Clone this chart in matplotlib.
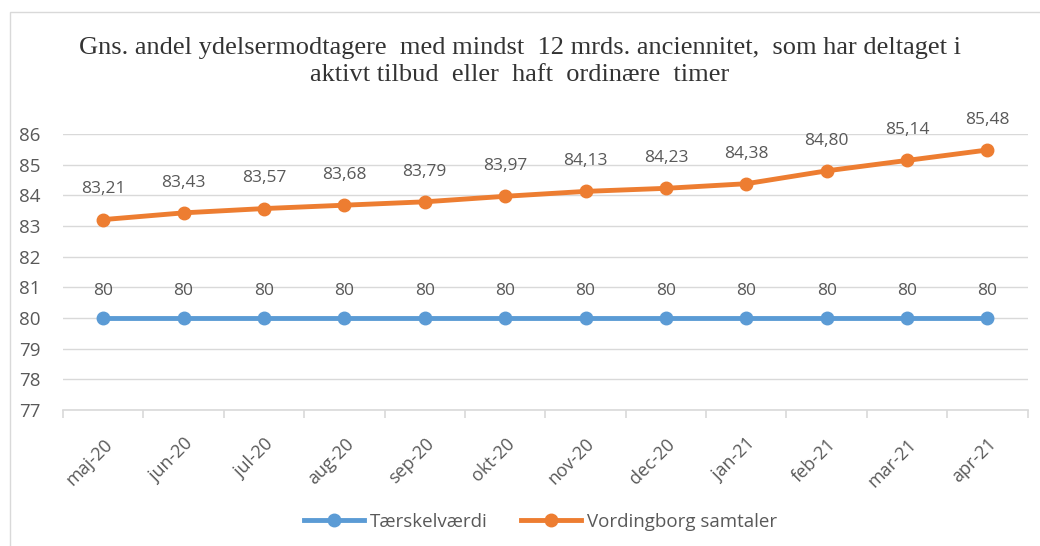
import matplotlib.pyplot as plt
from matplotlib.patches import Rectangle

months = ["maj-20", "jun-20", "jul-20", "aug-20", "sep-20", "okt-20",
          "nov-20", "dec-20", "jan-21", "feb-21", "mar-21", "apr-21"]
threshold = [80, 80, 80, 80, 80, 80, 80, 80, 80, 80, 80, 80]
vordingborg = [83.21, 83.43, 83.57, 83.68, 83.79, 83.97,
               84.13, 84.23, 84.38, 84.80, 85.14, 85.48]

blue = "#5b9bd5"
orange = "#ed7d31"
grey = "#595959"

fig = plt.figure(figsize=(10.4, 5.46), dpi=100)
ax = fig.add_axes([0.0606, 0.249, 0.9275, 0.5055])

# light frame round the chart area
fig.patches.append(Rectangle((10 / 1040, -0.1), 1.2, 1 - 12 / 546 + 0.1,
                             transform=fig.transFigure, fill=False,
                             edgecolor="#d9d9d9", linewidth=1))

x = list(range(len(months)))
ax.plot(x, threshold, color=blue, linewidth=3.5, marker="o", markersize=9,
        label="Tærskelværdi", zorder=3)
ax.plot(x, vordingborg, color=orange, linewidth=3.5, marker="o", markersize=9,
        label="Vordingborg samtaler", zorder=3)

# data labels
for i, v in enumerate(threshold):
    ax.annotate(str(v), (i, v), xytext=(0, 14), textcoords="offset points",
                ha="center", va="bottom", fontsize=12.5, color=grey,
                family="Open Sans")
for i, v in enumerate(vordingborg):
    ax.annotate(f"{v:.2f}".replace(".", ","), (i, v), xytext=(0, 16),
                textcoords="offset points", ha="center", va="bottom",
                fontsize=12.5, color=grey, family="Open Sans")

ax.set_xlim(-0.5, len(months) - 0.5)
ax.set_ylim(77, 86)
ax.set_yticks(range(77, 87))
ax.grid(axis="y", color="#d9d9d9", linewidth=1)
ax.set_axisbelow(True)

for s in ["top", "right", "left"]:
    ax.spines[s].set_visible(False)
ax.spines["bottom"].set_color("#d9d9d9")
ax.spines["bottom"].set_linewidth(1.2)

ax.set_xticks([i - 0.5 for i in range(len(months) + 1)], minor=False)
ax.set_xticklabels([])
ax.tick_params(axis="x", which="major", length=6, color="#d9d9d9", width=1.2)
ax.set_xticks(x, minor=True)
ax.set_xticklabels(months, minor=True, rotation=45, ha="right",
                   rotation_mode="anchor", fontsize=13, color=grey,
                   family="Open Sans")
ax.tick_params(axis="x", which="minor", length=0, pad=18)
ax.tick_params(axis="y", length=0, labelsize=13.5, labelcolor=grey, pad=16)
for lab in ax.get_yticklabels():
    lab.set_family("Open Sans")

fig.text(0.5, 0.888, "Gns. andel ydelsermodtagere  med mindst  12 mrds. anciennitet,  som har deltaget i\n"
         "aktivt tilbud  eller  haft  ordinære  timer",
         ha="center", va="center", fontsize=19, family="Liberation Serif",
         color="#333333", linespacing=1.3)

ax.legend(loc="center", bbox_to_anchor=(0.495, -0.405), ncol=2, frameon=False,
          labelcolor=grey, prop={"family": "Open Sans", "size": 13.5},
          handlelength=3.2, columnspacing=1.8, handletextpad=0.3)

fig.savefig("out.png", dpi=100)
